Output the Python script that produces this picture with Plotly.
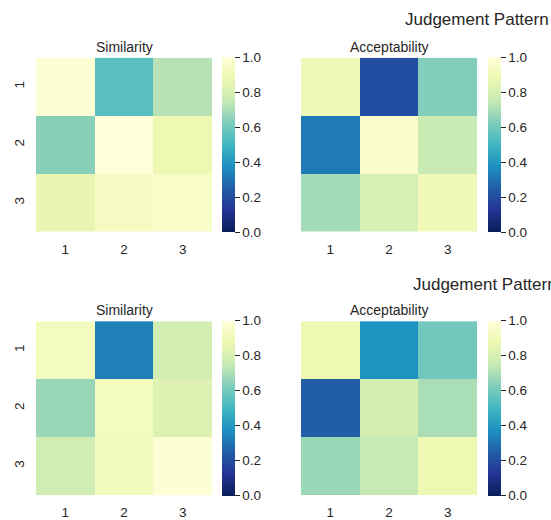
import plotly.graph_objects as go

W, H = 551, 520

labels = [1, 2, 3]
panel_titles = ["Similarity", "Acceptability"]
suptitle = "Judgement Pattern"

sim_top = [[0.98, 0.55, 0.72],
           [0.64, 1.00, 0.88],
           [0.86, 0.93, 0.95]]
acc_top = [[0.90, 0.20, 0.63],
           [0.32, 0.96, 0.76],
           [0.69, 0.80, 0.90]]
sim_bot = [[0.92, 0.33, 0.79],
           [0.67, 0.92, 0.82],
           [0.78, 0.91, 0.98]]
acc_bot = [[0.88, 0.38, 0.60],
           [0.25, 0.79, 0.70],
           [0.67, 0.75, 0.88]]

cbar_ticks = [0.0, 0.2, 0.4, 0.6, 0.8, 1.0]

ylgnbu = [[0.0, "#081d58"], [0.125, "#253494"], [0.25, "#225ea8"],
          [0.375, "#1d91c0"], [0.5, "#41b6c4"], [0.625, "#7fcdbb"],
          [0.75, "#c7e9b4"], [0.875, "#edf8b1"], [1.0, "#ffffd9"]]

FONT = "Liberation Sans, Arial, Helvetica, sans-serif"
TXT = "#262626"

def px_x(p):
    return p / W

def px_y(p):
    return 1 - p / H

# pixel layout: (x0, x1) columns, (y0, y1) rows
cols = [(36, 212), (301, 477)]
rows = [(58, 233), (323, 498)]
cbar_x = [222, 488]

fig = go.Figure()
data = [[sim_top, acc_top], [sim_bot, acc_bot]]

k = 0
for r in range(2):
    for c in range(2):
        k += 1
        ax = "" if k == 1 else str(k)
        y0, y1 = rows[r]
        fig.add_trace(go.Heatmap(
            z=data[r][c], x=labels, y=labels,
            zmin=0, zmax=1, colorscale=ylgnbu,
            xaxis="x" + ax, yaxis="y" + ax,
            xgap=0, ygap=0,
            colorbar=dict(
                x=px_x(cbar_x[c]), xanchor="left", xpad=0,
                y=px_y((y0 + y1) / 2), yanchor="middle", ypad=0,
                len=y1 - y0, lenmode="pixels",
                thickness=13, thicknessmode="pixels",
                outlinewidth=0,
                tickvals=cbar_ticks, tickformat=".1f",
                ticks="outside", ticklen=5, tickwidth=1, tickcolor=TXT,
                tickfont=dict(family=FONT, size=13.5, color=TXT),
            ),
        ))
        x0, x1 = cols[c]
        fig.layout["xaxis" + ax] = dict(
            domain=[px_x(x0), px_x(x1)], anchor="y" + ax,
            range=[0.5, 3.5], tickvals=labels, showgrid=False,
            zeroline=False, showline=False,
            ticks="outside", ticklen=5, tickcolor="rgba(0,0,0,0)",
            tickfont=dict(family=FONT, size=13.5, color=TXT),
        )
        fig.layout["yaxis" + ax] = dict(
            domain=[px_y(y1), px_y(y0)], anchor="x" + ax,
            range=[3.5, 0.5], tickvals=labels, showgrid=False,
            zeroline=False, showline=False,
            tickangle=-90,
            showticklabels=(c == 0),
            ticks="outside", ticklen=6, tickcolor="rgba(0,0,0,0)",
            tickfont=dict(family=FONT, size=13.5, color=TXT),
        )
        fig.add_annotation(
            text=panel_titles[c], xref="paper", yref="paper",
            x=px_x((x0 + x1) / 2), y=px_y(y0 - 11),
            xanchor="center", yanchor="middle", showarrow=False,
            font=dict(family=FONT, size=14, color=TXT),
        )

for r, (tx, ty) in enumerate([(403, 20), (411, 286)]):
    fig.add_annotation(
        text=suptitle, xref="paper", yref="paper",
        x=px_x(tx), y=px_y(ty), xanchor="left", yanchor="middle",
        showarrow=False, font=dict(family=FONT, size=17, color=TXT),
    )

fig.update_layout(
    width=W, height=H,
    margin=dict(l=0, r=0, t=0, b=0),
    paper_bgcolor="white", plot_bgcolor="white",
    showlegend=False,
)

fig.write_html("out.html", config={"displayModeBar": False})

# remove the default page margin so the figure sits at the window origin
with open("out.html", "r", encoding="utf-8") as f:
    html = f.read()
html = html.replace("<head>", "<head><style>html,body{margin:0;padding:0;overflow:hidden;}</style>", 1)
with open("out.html", "w", encoding="utf-8") as f:
    f.write(html)
